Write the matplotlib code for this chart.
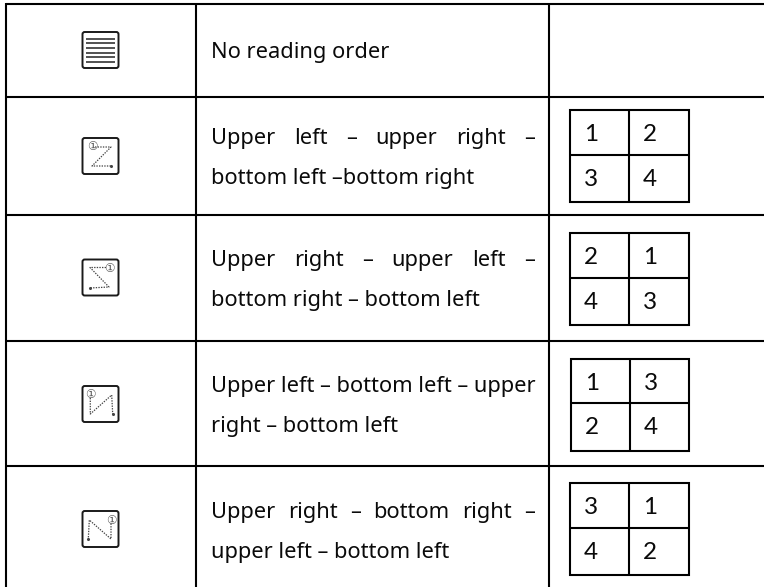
import matplotlib
matplotlib.use("Agg")
import matplotlib.pyplot as plt
from matplotlib.patches import FancyBboxPatch, Rectangle

row_lines = [
    ["No reading order"],
    ["Upper left – upper right –", "bottom left –bottom right"],
    ["Upper right – upper left –", "bottom right – bottom left"],
    ["Upper left – bottom left – upper", "right – bottom left"],
    ["Upper right – bottom right –", "upper left – bottom left"],
]
justified = [[False], [True, False], [True, False], [False, False], [True, False]]
baselines = [[58], [144, 184], [266, 306], [392, 432], [518, 558]]

grid_labels = [
    None,
    [["1", "2"], ["3", "4"]],
    [["2", "1"], ["4", "3"]],
    [["1", "3"], ["2", "4"]],
    [["3", "1"], ["4", "2"]],
]
grid_x = [None, (570, 629, 689), (570, 629, 689), (571, 630, 689), (570, 629, 689)]
grid_y = [None, (110, 155, 202), (233, 278, 325), (359, 403, 451), (483, 528, 575)]

h_rules = [4, 97, 215, 341, 466]
v_rules = [6, 196, 549]

icon_y = [31, 137, 258.5, 385, 510]
icon_paths = [
    None,
    [(95, 10), (111, 10), (92, 29), (111, 29)],
    [(106, 9), (90, 9), (109, 28.5), (90, 29.5)],
    [(90.3, 13), (90.3, 29), (111.7, 10), (112.7, 29)],
    [(111, 13.5), (111, 29), (89.3, 10), (88.3, 29)],
]
icon_circle = [None, (92, 10), (109, 9.5), (90.3, 10), (111, 10)]
text_lines_y = [7.7, 12.3, 17, 21.7, 26.3, 31]

FONT = "Noto Sans"
TEXT_SIZE = 15.7
DIGIT_SIZE = 17.5
INK = "#0a0a0a"

fig = plt.figure(figsize=(7.64, 5.87), dpi=100, facecolor="white")
ax = fig.add_axes([0, 0, 1, 1])
ax.set_xlim(0, 764)
ax.set_ylim(587, 0)
ax.axis("off")

LW = 1.5
for y in h_rules:
    ax.plot([6, 764], [y, y], color="black", lw=LW, solid_capstyle="butt")
for x in v_rules:
    ax.plot([x, x], [3, 587], color="black", lw=LW, solid_capstyle="butt")

fig.canvas.draw()
renderer = fig.canvas.get_renderer()


def draw_line(text, x0, x1, y, justify):
    if not justify:
        ax.text(x0, y, text, family=FONT, fontsize=TEXT_SIZE, color=INK, va="baseline", ha="left")
        return
    words = text.split(" ")
    artists = [ax.text(x0, y, w, family=FONT, fontsize=TEXT_SIZE, color=INK, va="baseline", ha="left") for w in words]
    widths = [a.get_window_extent(renderer).width for a in artists]
    gap = (x1 - x0 - sum(widths)) / (len(words) - 1)
    x = x0
    for a, w in zip(artists, widths):
        a.set_x(x)
        x += w + gap


for lines, just, bases in zip(row_lines, justified, baselines):
    for text, j, b in zip(lines, just, bases):
        draw_line(text, 211, 535, b, j)

for labels, xs, ys in zip(grid_labels, grid_x, grid_y):
    if labels is None:
        continue
    ax.add_patch(Rectangle((xs[0], ys[0]), xs[2] - xs[0], ys[2] - ys[0], fill=False, ec="black", lw=LW))
    ax.plot([xs[1], xs[1]], [ys[0], ys[2]], color="black", lw=LW, solid_capstyle="butt")
    ax.plot([xs[0], xs[2]], [ys[1], ys[1]], color="black", lw=LW, solid_capstyle="butt")
    for r in range(2):
        for c in range(2):
            ax.text(xs[0] + (21 if c == 0 else 80), ys[r] + 31,
                    labels[r][c], family="Lato", fontsize=DIGIT_SIZE, color=INK, ha="center", va="baseline")

for i, y0 in enumerate(icon_y):
    ax.add_patch(FancyBboxPatch((82.5, y0 + 1), 36, 36, boxstyle="round,pad=0,rounding_size=2.2",
                                fc="white", ec="#1a1a1a", lw=1.4))
    if icon_paths[i] is None:
        for ly in text_lines_y:
            ax.plot([86, 115], [y0 + ly, y0 + ly], color="#333333", lw=1.2, solid_capstyle="butt")
    else:
        xs = [p[0] for p in icon_paths[i]]
        ys = [y0 + p[1] for p in icon_paths[i]]
        ax.plot(xs, ys, color="#444444", lw=0.9, ls=(0, (1.1, 1.0)))
        ax.plot(xs[-1], ys[-1], "o", color="#444444", ms=1.2)
        cx, cy = icon_circle[i]
        ax.text(cx, y0 + cy, "①", family="DejaVu Sans", fontsize=8.5, color="#555555", ha="center", va="center")

fig.savefig("out.png", dpi=100)
